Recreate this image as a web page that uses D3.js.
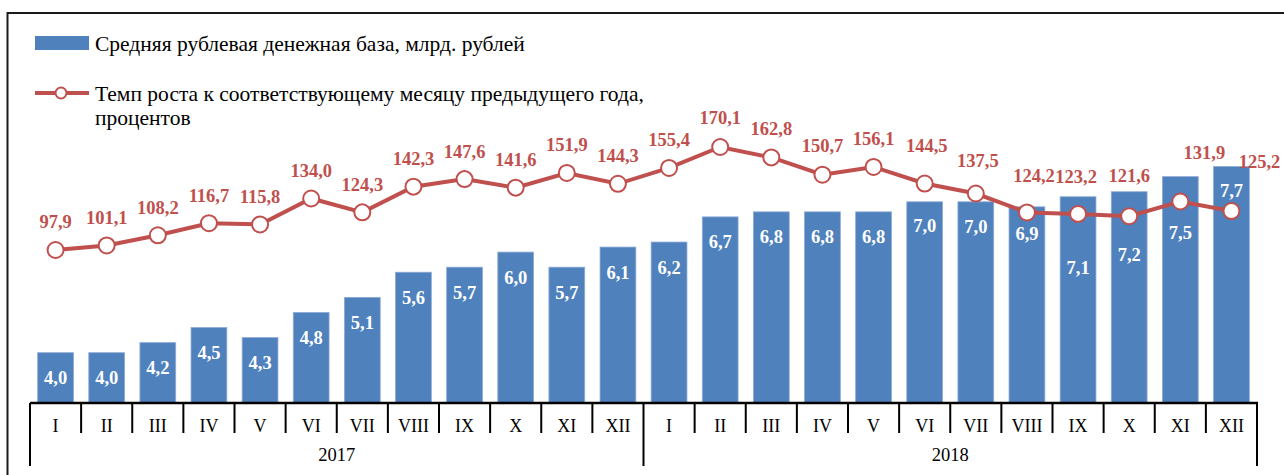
<!DOCTYPE html>
<html>
<head>
<meta charset="utf-8">
<script src="https://cdn.jsdelivr.net/npm/d3@7"></script>
<style>
  html, body { margin: 0; padding: 0; background: #fff; }
  svg { display: block; }
  text { font-family: "Liberation Serif", "Times New Roman", serif; }
</style>
</head>
<body>
<svg id="chart" width="1284" height="475"></svg>
<script>
// ---- data ----
const months = ["I","II","III","IV","V","VI","VII","VIII","IX","X","XI","XII"];
const years = ["2017", "2018"];
const moneyBase = [4.0, 4.0, 4.2, 4.5, 4.3, 4.8, 5.1, 5.6, 5.7, 6.0, 5.7, 6.1,
                   6.2, 6.7, 6.8, 6.8, 6.8, 7.0, 7.0, 6.9, 7.1, 7.2, 7.5, 7.7];
const growthRate = [97.9, 101.1, 108.2, 116.7, 115.8, 134.0, 124.3, 142.3, 147.6, 141.6, 151.9, 144.3,
                    155.4, 170.1, 162.8, 150.7, 156.1, 144.5, 137.5, 124.2, 123.2, 121.6, 131.9, 125.2];
const legendBars = "Средняя рублевая денежная база, млрд. рублей";
const legendLine = ["Темп роста к соответствующему месяцу предыдущего года,", "процентов"];

// ---- layout (label nudges, not data) ----
const barLabelDy = [25,25,25,25,25,25,25,25,25,25,25,25,
                    25,25,25,25,25,24,25,27,71,63,56,24];
const lineLabelNudge = [[0,-28],[0,-28],[0,-28],[0,-28],[0,-28],[0,-28],[0,-28],[0,-28],[0,-28],[0,-28],[0,-28],[0,-28],
                        [0,-28],[0,-29],[0,-29],[0,-29],[0,-28],[2,-38],[2,-33],[7,-37],[-2,-37],[0,-41],[24,-49],[28,-50]];

const W = 1284, H = 475;
const red = "#C0504D", blue = "#4F81BD";
const svg = d3.select("#chart");

// frame
svg.append("rect").attr("x", 7.5).attr("y", 13).attr("width", 1300).attr("height", 500)
  .attr("fill", "none").attr("stroke", "#1a1a1a").attr("stroke-width", 2);

const cats = d3.range(moneyBase.length);
const x = d3.scaleBand().domain(cats).range([30, 1257]).paddingInner(0.3).paddingOuter(0.15);
const yBar = d3.scaleLinear().domain([3, 10]).range([403, 403 - 7 * 50.3]);
const yLine = d3.scaleLinear().domain([97.9, 170.1]).range([250, 147]);

// bars
svg.append("g").selectAll("rect").data(moneyBase).join("rect")
  .attr("x", (d, i) => x(i))
  .attr("y", d => yBar(d))
  .attr("width", x.bandwidth())
  .attr("height", d => yBar(3) - yBar(d))
  .attr("fill", blue)
  .attr("stroke", "#8DAAD6").attr("stroke-width", 0.8);

// bar labels
const fmt = v => d3.format(".1f")(v).replace(".", ",");
svg.append("g").selectAll("text").data(moneyBase).join("text")
  .attr("x", (d, i) => x(i) + x.bandwidth() / 2)
  .attr("y", (d, i) => yBar(d) + barLabelDy[i])
  .attr("dy", "0.35em")
  .attr("text-anchor", "middle")
  .attr("fill", "#fff").attr("font-weight", "bold").attr("font-size", 18.5)
  .text(d => fmt(d));

// line
const cx = i => x(i) + x.bandwidth() / 2;
svg.append("path").datum(growthRate)
  .attr("d", d3.line().x((d, i) => cx(i)).y(d => yLine(d)))
  .attr("fill", "none").attr("stroke", red).attr("stroke-width", 4);
svg.append("g").selectAll("circle").data(growthRate).join("circle")
  .attr("cx", (d, i) => cx(i)).attr("cy", d => yLine(d)).attr("r", 8)
  .attr("fill", "#fff").attr("stroke", red).attr("stroke-width", 2);
svg.append("g").selectAll("text").data(growthRate).join("text")
  .attr("x", (d, i) => cx(i) + lineLabelNudge[i][0])
  .attr("y", (d, i) => yLine(d) + lineLabelNudge[i][1])
  .attr("dy", "0.35em")
  .attr("text-anchor", "middle")
  .attr("fill", red).attr("font-weight", "bold").attr("font-size", 18.5)
  .text(d => fmt(d));

// axis
const ax = svg.append("g");
ax.append("line").attr("x1", 30).attr("x2", 1258).attr("y1", 403).attr("y2", 403)
  .attr("stroke", "#000").attr("stroke-width", 2.5);
const step = x.step();
const bounds = d3.range(moneyBase.length + 1).map(i => 30 + i * step);
ax.selectAll("line.tick").data(bounds).join("line").attr("class", "tick")
  .attr("x1", d => d).attr("x2", d => d)
  .attr("y1", 403).attr("y2", (d, i) => (i % 12 === 0) ? 466 : 433)
  .attr("stroke", "#000").attr("stroke-width", 2);
ax.selectAll("text.m").data(cats).join("text").attr("class", "m")
  .attr("x", i => cx(i)).attr("y", 426).attr("dy", "0.35em")
  .attr("text-anchor", "middle").attr("font-size", 18).attr("fill", "#000")
  .text(i => months[i % 12]);
ax.selectAll("text.y").data(years).join("text").attr("class", "y")
  .attr("x", (d, k) => (bounds[k * 12] + bounds[k * 12 + 12]) / 2)
  .attr("y", 455).attr("dy", "0.35em")
  .attr("text-anchor", "middle").attr("font-size", 18.5).attr("fill", "#000")
  .text(d => d);

// legend
const lg = svg.append("g");
lg.append("rect").attr("x", 35).attr("y", 36).attr("width", 54).attr("height", 14).attr("fill", blue);
lg.append("text").attr("x", 95).attr("y", 51).attr("font-size", 21.5).attr("fill", "#000").text(legendBars);
lg.append("line").attr("x1", 35).attr("x2", 89).attr("y1", 93).attr("y2", 93)
  .attr("stroke", red).attr("stroke-width", 4);
lg.append("circle").attr("cx", 61).attr("cy", 93).attr("r", 5.5)
  .attr("fill", "#fff").attr("stroke", red).attr("stroke-width", 2);
lg.selectAll("text.l2").data(legendLine).join("text").attr("class", "l2")
  .attr("x", 95).attr("y", (d, i) => 101 + i * 24).attr("font-size", 21.5).attr("fill", "#000")
  .text(d => d);
</script>
</body>
</html>
